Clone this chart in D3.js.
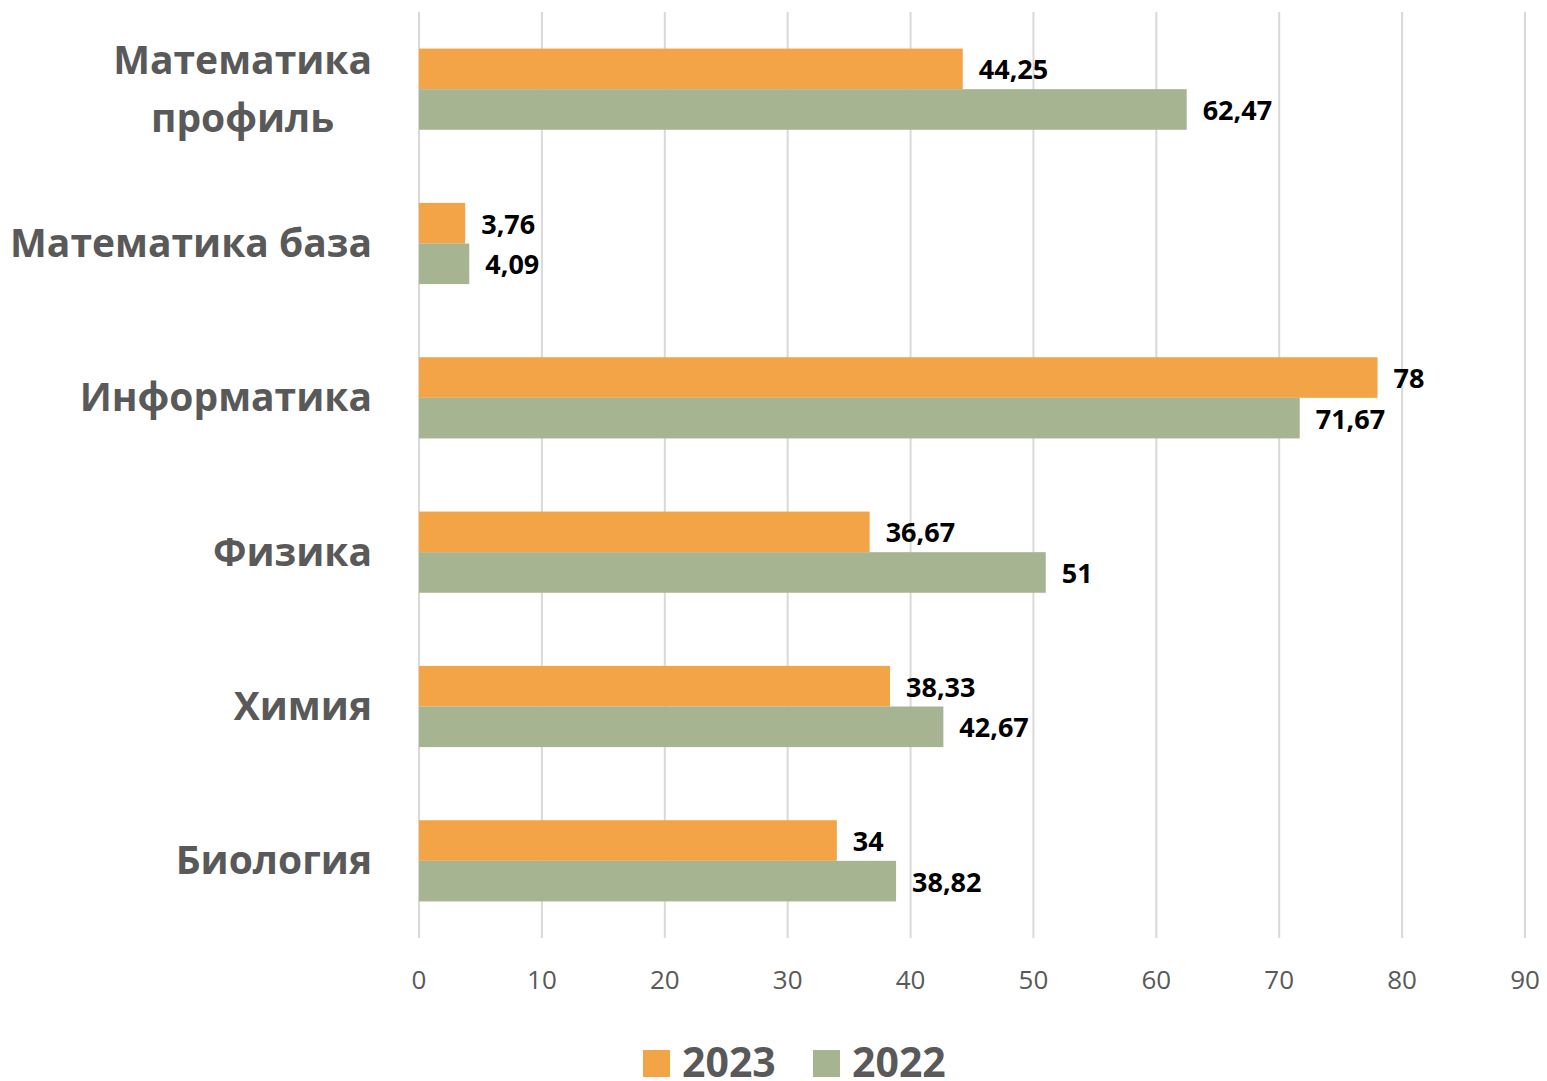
<!DOCTYPE html>
<html>
<head>
<meta charset="utf-8">
<script src="https://cdn.jsdelivr.net/npm/d3@7"></script>
<style>
  body { margin: 0; background: #fff; }
  svg { font-family: "Open Sans", "Noto Sans", sans-serif; }
</style>
</head>
<body>
<div id="chart"></div>
<script>
var categories = [["Математика", "профиль"], ["Математика база"], ["Информатика"], ["Физика"], ["Химия"], ["Биология"]];
var series = ["2023", "2022"];
var values2023 = [44.25, 3.76, 78, 36.67, 38.33, 34];
var values2022 = [62.47, 4.09, 71.67, 51, 42.67, 38.82];
var ticks = [0, 10, 20, 30, 40, 50, 60, 70, 80, 90];
var colors = ["#f2a446", "#a6b491"];

var w = 1547, h = 1081;
var plotLeft = 419, plotRight = 1525, plotTop = 12, plotBottom = 938;

var x = d3.scaleLinear().domain([0, 90]).range([plotLeft, plotRight]);
var y = d3.scaleBand().domain(d3.range(categories.length)).range([plotTop, plotBottom]).paddingInner(0.474).paddingOuter(0.237);
var sub = d3.scaleBand().domain(series).range([0, y.bandwidth()]);

var svg = d3.select("#chart").append("svg")
  .attr("width", w)
  .attr("height", h);

/* Gridlines. */
svg.append("g").selectAll("line")
  .data(ticks)
  .enter().append("line")
  .attr("x1", d => x(d)).attr("x2", d => x(d))
  .attr("y1", plotTop).attr("y2", plotBottom)
  .attr("stroke", "#d9d9d9")
  .attr("stroke-width", 2);

/* Tick labels. */
svg.append("g").selectAll("text")
  .data(ticks)
  .enter().append("text")
  .attr("x", d => x(d))
  .attr("y", 989)
  .attr("text-anchor", "middle")
  .attr("fill", "#595959")
  .style("font-size", "26px")
  .text(d => d);

/* Bars. */
var data = categories.map((c, i) => [values2023[i], values2022[i]]);
var groups = svg.append("g").selectAll("g")
  .data(data)
  .enter().append("g")
  .attr("transform", (d, i) => "translate(0," + y(i) + ")");

groups.selectAll("rect")
  .data(d => d)
  .enter().append("rect")
  .attr("x", x(0))
  .attr("y", (d, j) => sub(series[j]))
  .attr("width", d => x(d) - x(0))
  .attr("height", sub.bandwidth())
  .attr("fill", (d, j) => colors[j]);

groups.selectAll("text.val")
  .data(d => d)
  .enter().append("text")
  .attr("class", "val")
  .attr("x", d => x(d) + 16)
  .attr("y", (d, j) => sub(series[j]) + sub.bandwidth() / 2 + 1)
  .attr("dy", ".35em")
  .attr("fill", "#000")
  .style("font-size", "27px")
  .style("font-weight", "bold")
  .text(d => String(d).replace(".", ","));

/* Category labels. */
var cat = svg.append("g").selectAll("text")
  .data(categories)
  .enter().append("text")
  .attr("text-anchor", "middle")
  .attr("fill", "#595959")
  .style("font-size", "39px")
  .style("font-weight", "bold")
  .attr("y", (d, i) => y(i) + y.bandwidth() / 2 - (d.length - 1) * 29)
  .each(function(d) {
    var t = d3.select(this);
    d.forEach((line, k) => {
      t.append("tspan").attr("x", 0).attr("dy", k === 0 ? ".35em" : "1.5em").text(line);
    });
  });
// right-align blocks at x=372 keeping multi-line centered
cat.each(function() {
  var bw = this.getBBox().width;
  d3.select(this).selectAll("tspan").attr("x", 372 - bw / 2);
});

/* Legend. */
var legend = svg.append("g").attr("transform", "translate(643,1050)");
var lx = [0, 170];
series.forEach((s, i) => {
  legend.append("rect")
    .attr("x", lx[i]).attr("y", 0)
    .attr("width", 27).attr("height", 27)
    .attr("fill", colors[i]);
  legend.append("text")
    .attr("x", lx[i] + 39).attr("y", 27)
    .attr("fill", "#595959")
    .style("font-size", "41px")
    .style("font-weight", "bold")
    .text(s);
});
</script>
</body>
</html>
